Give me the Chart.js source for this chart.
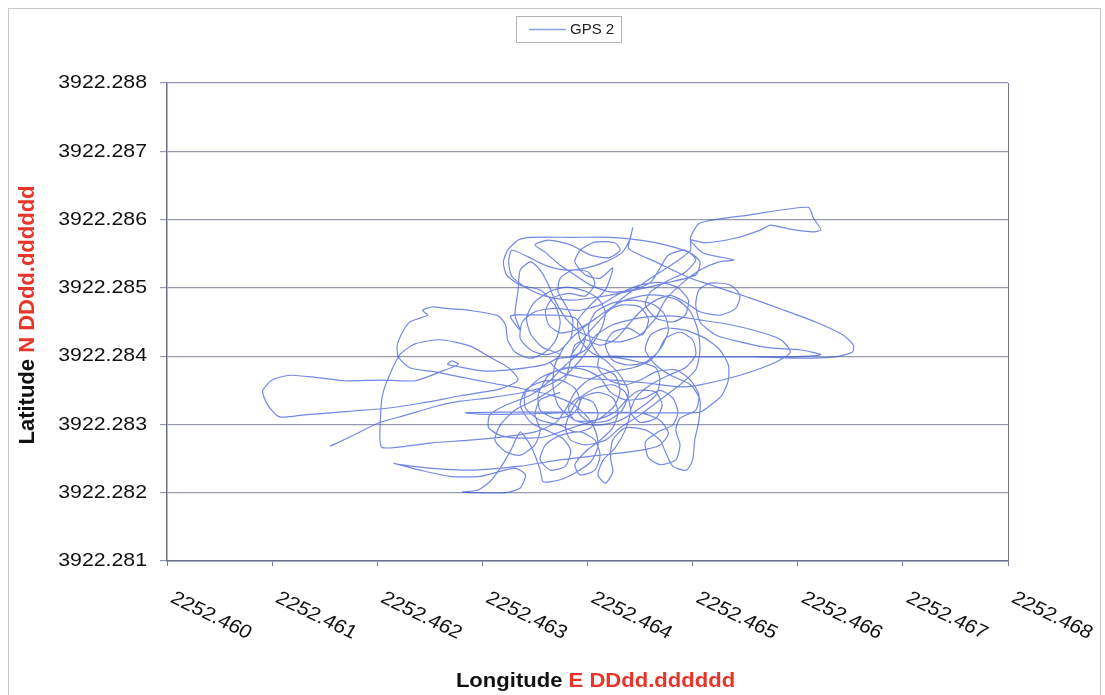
<!DOCTYPE html>
<html>
<head>
<meta charset="utf-8">
<title>GPS 2</title>
<script src="https://cdn.jsdelivr.net/npm/chart.js@4.4.1/dist/chart.umd.min.js"></script>
<style>
  html, body { margin: 0; padding: 0; background: #fff; }
  #wrap { width: 1105px; height: 695px; }
</style>
</head>
<body>
<div id="wrap"><canvas id="gps" width="1105" height="695"></canvas></div>
<script>
// axis ranges and labels
const serieNombre = "GPS 2";
const lonMin = 2252.460, lonMax = 2252.468, lonPaso = 0.001;
const latMin = 3922.281, latMax = 3922.288, latPaso = 0.001;
const tituloX = ["Longitude ", "E DDdd.dddddd"];
const tituloY = ["Latitude ", "N DDdd.dddddd"];

// track (longitude E / latitude N, DDdd.dddddd)
const lon = [
  2252.46155, 2252.46176, 2252.46201, 2252.46228, 2252.46257, 2252.46279, 2252.46307, 2252.46336, 2252.46360, 2252.46379,
  2252.46393, 2252.46405, 2252.46414, 2252.46417, 2252.46410, 2252.46398, 2252.46380, 2252.46363, 2252.46349, 2252.46342,
  2252.46346, 2252.46357, 2252.46374, 2252.46360, 2252.46331, 2252.46303, 2252.46279, 2252.46267, 2252.46271, 2252.46277,
  2252.46260, 2252.46236, 2252.46203, 2252.46169, 2252.46141, 2252.46117, 2252.46100, 2252.46091, 2252.46096, 2252.46107,
  2252.46131, 2252.46155, 2252.46179, 2252.46205, 2252.46241, 2252.46279, 2252.46317, 2252.46334, 2252.46325, 2252.46309,
  2252.46288, 2252.46260, 2252.46236, 2252.46222, 2252.46213, 2252.46205, 2252.46203, 2252.46204, 2252.46227, 2252.46252,
  2252.46288, 2252.46322, 2252.46350, 2252.46370, 2252.46380, 2252.46388, 2252.46401, 2252.46422, 2252.46443, 2252.46460,
  2252.46471, 2252.46477, 2252.46473, 2252.46462, 2252.46444, 2252.46424, 2252.46408, 2252.46401, 2252.46403, 2252.46412,
  2252.46431, 2252.46469, 2252.46507, 2252.46555, 2252.46603, 2252.46636, 2252.46652, 2252.46653, 2252.46643, 2252.46617,
  2252.46584, 2252.46555, 2252.46531, 2252.46512, 2252.46498, 2252.46481, 2252.46465, 2252.46450, 2252.46439, 2252.46441,
  2252.46443, 2252.46440, 2252.46433, 2252.46417, 2252.46398, 2252.46379, 2252.46360, 2252.46344, 2252.46328, 2252.46325,
  2252.46328, 2252.46341, 2252.46360, 2252.46384, 2252.46412, 2252.46446, 2252.46474, 2252.46503, 2252.46507, 2252.46498,
  2252.46474, 2252.46450, 2252.46422, 2252.46384, 2252.46346, 2252.46334, 2252.46324, 2252.46320, 2252.46323, 2252.46336,
  2252.46355, 2252.46369, 2252.46374, 2252.46370, 2252.46360, 2252.46346, 2252.46331, 2252.46324, 2252.46322, 2252.46315,
  2252.46288, 2252.46265, 2252.46252, 2252.46243, 2252.46248, 2252.46231, 2252.46224, 2252.46219, 2252.46220, 2252.46231,
  2252.46255, 2252.46284, 2252.46307, 2252.46336, 2252.46365, 2252.46386, 2252.46401, 2252.46408, 2252.46410, 2252.46403,
  2252.46388, 2252.46374, 2252.46358, 2252.46355, 2252.46350, 2252.46344, 2252.46336, 2252.46327, 2252.46317, 2252.46307,
  2252.46296, 2252.46281, 2252.46298, 2252.46322, 2252.46336, 2252.46341, 2252.46331, 2252.46298, 2252.46269, 2252.46241,
  2252.46216, 2252.46222, 2252.46250, 2252.46288, 2252.46336, 2252.46374, 2252.46412, 2252.46450, 2252.46469, 2252.46477,
  2252.46469, 2252.46450, 2252.46412, 2252.46374, 2252.46336, 2252.46298, 2252.46284, 2252.46317, 2252.46374, 2252.46431,
  2252.46488, 2252.46507, 2252.46517, 2252.46528, 2252.46534, 2252.46534, 2252.46526, 2252.46512, 2252.46493, 2252.46474,
  2252.46460, 2252.46455, 2252.46465, 2252.46479, 2252.46498, 2252.46507, 2252.46506, 2252.46502, 2252.46500, 2252.46494,
  2252.46481, 2252.46474, 2252.46469, 2252.46455, 2252.46436, 2252.46424, 2252.46422, 2252.46424, 2252.46417, 2252.46410,
  2252.46415, 2252.46426, 2252.46436, 2252.46441, 2252.46436, 2252.46424, 2252.46407, 2252.46393, 2252.46384, 2252.46379,
  2252.46384, 2252.46398, 2252.46417, 2252.46431, 2252.46450, 2252.46469, 2252.46488, 2252.46503, 2252.46507, 2252.46505,
  2252.46498, 2252.46486, 2252.46469, 2252.46450, 2252.46431, 2252.46412, 2252.46393, 2252.46379, 2252.46369, 2252.46367,
  2252.46372, 2252.46388, 2252.46410, 2252.46431, 2252.46450, 2252.46465, 2252.46469, 2252.46465, 2252.46450, 2252.46431,
  2252.46412, 2252.46393, 2252.46374, 2252.46365, 2252.46374, 2252.46395, 2252.46424, 2252.46455, 2252.46488, 2252.46507,
  2252.46545, 2252.46579, 2252.46593, 2252.46584, 2252.46565, 2252.46536, 2252.46507, 2252.46479, 2252.46450, 2252.46424,
  2252.46407, 2252.46398, 2252.46384, 2252.46403, 2252.46431, 2252.46460, 2252.46484, 2252.46498, 2252.46498, 2252.46507,
  2252.46555, 2252.46610, 2252.46615, 2252.46622, 2252.46614, 2252.46593, 2252.46574, 2252.46565, 2252.46541, 2252.46512,
  2252.46498, 2252.46510, 2252.46539, 2252.46525, 2252.46507, 2252.46488, 2252.46474, 2252.46465, 2252.46450, 2252.46431,
  2252.46412, 2252.46393, 2252.46379, 2252.46369, 2252.46363, 2252.46355, 2252.46346, 2252.46336, 2252.46334, 2252.46331,
  2252.46336, 2252.46327, 2252.46365, 2252.46388, 2252.46398, 2252.46393, 2252.46379, 2252.46365, 2252.46346, 2252.46322,
  2252.46307, 2252.46306, 2252.46317, 2252.46336, 2252.46360, 2252.46379, 2252.46393, 2252.46412, 2252.46426, 2252.46431,
  2252.46426, 2252.46412, 2252.46393, 2252.46374, 2252.46355, 2252.46341, 2252.46341, 2252.46355, 2252.46374,
  2252.46388, 2252.46403, 2252.46410, 2252.46405, 2252.46391, 2252.46382, 2252.46388, 2252.46407, 2252.46426, 2252.46439,
  2252.46450, 2252.46465, 2252.46471, 2252.46465, 2252.46450, 2252.46441, 2252.46446, 2252.46460, 2252.46477, 2252.46493,
  2252.46503, 2252.46500, 2252.46488, 2252.46474, 2252.46467, 2252.46455, 2252.46439, 2252.46424, 2252.46417, 2252.46424,
  2252.46439, 2252.46452, 2252.46458, 2252.46450, 2252.46433, 2252.46417, 2252.46403, 2252.46388, 2252.46374, 2252.46363,
  2252.46360, 2252.46367, 2252.46382, 2252.46398, 2252.46407, 2252.46401, 2252.46386, 2252.46374, 2252.46372, 2252.46379,
  2252.46386, 2252.46384, 2252.46374, 2252.46360, 2252.46346, 2252.46336, 2252.46338, 2252.46350, 2252.46369, 2252.46391,
  2252.46412, 2252.46431, 2252.46450, 2252.46469, 2252.46486, 2252.46496, 2252.46493, 2252.46481, 2252.46465, 2252.46455,
  2252.46460, 2252.46477, 2252.46493, 2252.46503, 2252.46493, 2252.46477, 2252.46469, 2252.46460, 2252.46443, 2252.46422,
  2252.46403, 2252.46388, 2252.46374, 2252.46360, 2252.46350, 2252.46363, 2252.46384, 2252.46403, 2252.46420, 2252.46431,
  2252.46426, 2252.46407, 2252.46393, 2252.46388, 2252.46398, 2252.46412, 2252.46424, 2252.46417, 2252.46403, 2252.46391,
  2252.46393, 2252.46403, 2252.46417, 2252.46431, 2252.46439, 2252.46433, 2252.46420, 2252.46403, 2252.46391, 2252.46395,
  2252.46410, 2252.46424, 2252.46429, 2252.46424, 2252.46412, 2252.46398, 2252.46388, 2252.46393, 2252.46407, 2252.46412,
  2252.46407, 2252.46393, 2252.46374, 2252.46360, 2252.46355, 2252.46365, 2252.46379, 2252.46384, 2252.46376, 2252.46360,
  2252.46346, 2252.46336, 2252.46341, 2252.46355, 2252.46374, 2252.46388, 2252.46393, 2252.46386, 2252.46369, 2252.46355,
  2252.46353, 2252.46363, 2252.46379, 2252.46398, 2252.46412, 2252.46422, 2252.46436, 2252.46455, 2252.46469, 2252.46481,
  2252.46486, 2252.46481, 2252.46467, 2252.46455, 2252.46458, 2252.46469, 2252.46484, 2252.46488, 2252.46484, 2252.46488,
  2252.46503, 2252.46506, 2252.46498, 2252.46484, 2252.46465, 2252.46450, 2252.46436, 2252.46420, 2252.46410, 2252.46412,
  2252.46450, 2252.46498, 2252.46545, 2252.46593, 2252.46622, 2252.46603, 2252.46574, 2252.46545, 2252.46522, 2252.46507,
  2252.46503, 2252.46506, 2252.46517, 2252.46536, 2252.46545, 2252.46541, 2252.46526, 2252.46507, 2252.46493, 2252.46479,
  2252.46465, 2252.46450, 2252.46439, 2252.46426, 2252.46412, 2252.46398, 2252.46388, 2252.46384, 2252.46379, 2252.46365,
  2252.46350, 2252.46331, 2252.46317, 2252.46312, 2252.46322, 2252.46336, 2252.46350, 2252.46355, 2252.46350, 2252.46355,
  2252.46374
];
const lat = [
  3922.28268, 3922.28283, 3922.28302, 3922.28314, 3922.28327, 3922.28334, 3922.28339, 3922.28346, 3922.28356, 3922.28372,
  3922.28394, 3922.28419, 3922.28443, 3922.28465, 3922.28484, 3922.28495, 3922.28501, 3922.28494, 3922.28478, 3922.28456,
  3922.28432, 3922.28413, 3922.28402, 3922.28388, 3922.28381, 3922.28378, 3922.28384, 3922.28388, 3922.28393, 3922.28388,
  3922.28377, 3922.28364, 3922.28365, 3922.28364, 3922.28369, 3922.28372, 3922.28365, 3922.28349, 3922.28328, 3922.28311,
  3922.28314, 3922.28317, 3922.28320, 3922.28323, 3922.28331, 3922.28342, 3922.28352, 3922.28365, 3922.28383, 3922.28397,
  3922.28415, 3922.28424, 3922.28418, 3922.28403, 3922.28377, 3922.28343, 3922.28306, 3922.28267, 3922.28268, 3922.28273,
  3922.28277, 3922.28282, 3922.28289, 3922.28303, 3922.28324, 3922.28347, 3922.28365, 3922.28377, 3922.28383, 3922.28394,
  3922.28415, 3922.28438, 3922.28462, 3922.28476, 3922.28482, 3922.28478, 3922.28465, 3922.28444, 3922.28421, 3922.28400,
  3922.28399, 3922.28399, 3922.28399, 3922.28399, 3922.28397, 3922.28399, 3922.28406, 3922.28416, 3922.28431, 3922.28450,
  3922.28469, 3922.28485, 3922.28497, 3922.28507, 3922.28514, 3922.28526, 3922.28538, 3922.28548, 3922.28558, 3922.28574,
  3922.28588, 3922.28570, 3922.28552, 3922.28538, 3922.28529, 3922.28526, 3922.28533, 3922.28545, 3922.28555, 3922.28538,
  3922.28517, 3922.28501, 3922.28488, 3922.28482, 3922.28487, 3922.28497, 3922.28507, 3922.28519, 3922.28538, 3922.28551,
  3922.28563, 3922.28570, 3922.28574, 3922.28574, 3922.28574, 3922.28570, 3922.28555, 3922.28538, 3922.28519, 3922.28504,
  3922.28497, 3922.28475, 3922.28450, 3922.28424, 3922.28406, 3922.28397, 3922.28406, 3922.28424, 3922.28446, 3922.28459,
  3922.28467, 3922.28470, 3922.28472, 3922.28467, 3922.28460, 3922.28450, 3922.28435, 3922.28416, 3922.28399, 3922.28383,
  3922.28377, 3922.28368, 3922.28361, 3922.28353, 3922.28343, 3922.28330, 3922.28309, 3922.28289, 3922.28267, 3922.28245,
  3922.28229, 3922.28219, 3922.28216, 3922.28233, 3922.28255, 3922.28274, 3922.28289, 3922.28262, 3922.28236, 3922.28216,
  3922.28204, 3922.28201, 3922.28200, 3922.28200, 3922.28207, 3922.28226, 3922.28236, 3922.28224, 3922.28224, 3922.28233,
  3922.28243, 3922.28241, 3922.28236, 3922.28233, 3922.28239, 3922.28248, 3922.28255, 3922.28262, 3922.28270, 3922.28287,
  3922.28306, 3922.28317, 3922.28317, 3922.28317, 3922.28315, 3922.28315, 3922.28317, 3922.28318, 3922.28318, 3922.28317,
  3922.28317, 3922.28318, 3922.28328, 3922.28343, 3922.28365, 3922.28387, 3922.28409, 3922.28426, 3922.28438, 3922.28441,
  3922.28431, 3922.28409, 3922.28387, 3922.28372, 3922.28358, 3922.28336, 3922.28306, 3922.28277, 3922.28248, 3922.28233,
  3922.28239, 3922.28260, 3922.28277, 3922.28292, 3922.28295, 3922.28277, 3922.28251, 3922.28230, 3922.28214, 3922.28226,
  3922.28248, 3922.28265, 3922.28292, 3922.28321, 3922.28347, 3922.28358, 3922.28353, 3922.28339, 3922.28318, 3922.28295,
  3922.28277, 3922.28270, 3922.28277, 3922.28295, 3922.28314, 3922.28336, 3922.28358, 3922.28380, 3922.28409, 3922.28438,
  3922.28465, 3922.28482, 3922.28489, 3922.28488, 3922.28479, 3922.28460, 3922.28438, 3922.28416, 3922.28387, 3922.28358,
  3922.28328, 3922.28306, 3922.28299, 3922.28306, 3922.28324, 3922.28343, 3922.28365, 3922.28383, 3922.28391, 3922.28397,
  3922.28399, 3922.28399, 3922.28397, 3922.28391, 3922.28377, 3922.28368, 3922.28365, 3922.28361, 3922.28355, 3922.28358,
  3922.28372, 3922.28391, 3922.28406, 3922.28424, 3922.28435, 3922.28446, 3922.28453, 3922.28459, 3922.28456, 3922.28446,
  3922.28429, 3922.28409, 3922.28400, 3922.28438, 3922.28482, 3922.28514, 3922.28538, 3922.28555, 3922.28574, 3922.28595,
  3922.28607, 3922.28618, 3922.28602, 3922.28585, 3922.28582, 3922.28586, 3922.28592, 3922.28585, 3922.28573, 3922.28566,
  3922.28570, 3922.28551, 3922.28541, 3922.28538, 3922.28526, 3922.28504, 3922.28482, 3922.28456, 3922.28431, 3922.28421,
  3922.28424, 3922.28435, 3922.28456, 3922.28482, 3922.28504, 3922.28526, 3922.28538, 3922.28526, 3922.28497, 3922.28460,
  3922.28438, 3922.28459, 3922.28460, 3922.28456, 3922.28431, 3922.28406, 3922.28387, 3922.28365, 3922.28343, 3922.28328,
  3922.28314, 3922.28295, 3922.28284, 3922.28280, 3922.28282, 3922.28292, 3922.28299, 3922.28309, 3922.28328, 3922.28350,
  3922.28372, 3922.28383, 3922.28385, 3922.28380, 3922.28368, 3922.28347, 3922.28324, 3922.28306, 3922.28299,
  3922.28289, 3922.28295, 3922.28314, 3922.28333, 3922.28339, 3922.28324, 3922.28306, 3922.28306, 3922.28318, 3922.28339,
  3922.28350, 3922.28347, 3922.28328, 3922.28309, 3922.28303, 3922.28318, 3922.28339, 3922.28358, 3922.28372, 3922.28383,
  3922.28402, 3922.28424, 3922.28435, 3922.28426, 3922.28406, 3922.28391, 3922.28387, 3922.28394, 3922.28416, 3922.28435,
  3922.28441, 3922.28431, 3922.28453, 3922.28472, 3922.28475, 3922.28465, 3922.28450, 3922.28438, 3922.28434, 3922.28446,
  3922.28467, 3922.28485, 3922.28492, 3922.28488, 3922.28506, 3922.28523, 3922.28526, 3922.28514, 3922.28494, 3922.28475,
  3922.28453, 3922.28426, 3922.28409, 3922.28402, 3922.28409, 3922.28426, 3922.28450, 3922.28465, 3922.28470, 3922.28467,
  3922.28475, 3922.28492, 3922.28504, 3922.28508, 3922.28500, 3922.28482, 3922.28460, 3922.28450, 3922.28456, 3922.28475,
  3922.28494, 3922.28511, 3922.28523, 3922.28541, 3922.28555, 3922.28548, 3922.28529, 3922.28508, 3922.28497, 3922.28494,
  3922.28504, 3922.28519, 3922.28533, 3922.28552, 3922.28563, 3922.28570, 3922.28563, 3922.28548, 3922.28544, 3922.28555,
  3922.28566, 3922.28567, 3922.28555, 3922.28538, 3922.28519, 3922.28514, 3922.28529, 3922.28497, 3922.28475, 3922.28453,
  3922.28424, 3922.28406, 3922.28394, 3922.28372, 3922.28347, 3922.28321, 3922.28306, 3922.28303, 3922.28318, 3922.28339,
  3922.28347, 3922.28339, 3922.28318, 3922.28295, 3922.28277, 3922.28260, 3922.28241, 3922.28226, 3922.28233, 3922.28255,
  3922.28277, 3922.28289, 3922.28284, 3922.28270, 3922.28248, 3922.28233, 3922.28239, 3922.28262, 3922.28280, 3922.28292,
  3922.28303, 3922.28328, 3922.28350, 3922.28362, 3922.28365, 3922.28353, 3922.28333, 3922.28315, 3922.28309, 3922.28321,
  3922.28343, 3922.28372, 3922.28383, 3922.28380, 3922.28368, 3922.28347, 3922.28336, 3922.28339, 3922.28350, 3922.28339,
  3922.28318, 3922.28299, 3922.28289, 3922.28274, 3922.28251, 3922.28241, 3922.28248, 3922.28270, 3922.28292, 3922.28309,
  3922.28321, 3922.28343, 3922.28365, 3922.28380, 3922.28377, 3922.28365, 3922.28358, 3922.28365, 3922.28383, 3922.28399,
  3922.28399, 3922.28399, 3922.28399, 3922.28399, 3922.28402, 3922.28409, 3922.28412, 3922.28421, 3922.28431, 3922.28450,
  3922.28475, 3922.28497, 3922.28507, 3922.28504, 3922.28489, 3922.28470, 3922.28460, 3922.28465, 3922.28479, 3922.28489,
  3922.28482, 3922.28465, 3922.28446, 3922.28424, 3922.28416, 3922.28424, 3922.28416, 3922.28394, 3922.28368, 3922.28350,
  3922.28336, 3922.28321, 3922.28299, 3922.28277, 3922.28260, 3922.28255, 3922.28270, 3922.28292, 3922.28314, 3922.28336,
  3922.28347
];

const puntos = [];
for (let i = 0; i < Math.min(lon.length, lat.length); i++) {
  puntos.push({ x: lon[i], y: lat[i] });
}

const ROJO = "#e8352a";
const FUENTE = '"Liberation Sans", Arial, sans-serif';

function texto(ctx, t, x, y, sx, ang) {
  ctx.save();
  ctx.translate(x, y);
  ctx.scale(sx, 1);
  if (ang) ctx.rotate(ang);
  ctx.fillText(t, 0, 0);
  ctx.restore();
}

// two coloured title, centred on 0 in the current transform
function tituloDoble(ctx, partes, sx) {
  const w1 = ctx.measureText(partes[0]).width;
  const w2 = ctx.measureText(partes[1]).width;
  const x0 = -(w1 + w2) / 2;
  ctx.scale(sx, 1);
  ctx.textAlign = "left";
  ctx.fillStyle = "#111";
  ctx.fillText(partes[0], x0, 0);
  ctx.fillStyle = ROJO;
  ctx.fillText(partes[1], x0 + w1, 0);
}

const decorado = {
  id: "decorado",
  beforeDraw(chart) {
    const ctx = chart.ctx;
    ctx.save();
    ctx.fillStyle = "#fff";
    ctx.fillRect(0, 0, chart.width, chart.height);
    ctx.strokeStyle = "#c8c8c8";
    ctx.lineWidth = 1;
    ctx.strokeRect(8.5, 8.5, 1092, 700);
    ctx.restore();
  },
  afterDraw(chart) {
    const { ctx, chartArea: a } = chart;
    const xs = chart.scales.x, ys = chart.scales.y;
    ctx.save();

    // right edge of the plot box
    ctx.strokeStyle = "rgb(115,120,145)";
    ctx.lineWidth = 1;
    ctx.beginPath();
    ctx.moveTo(a.right + 0.5, a.top);
    ctx.lineTo(a.right + 0.5, a.bottom);
    ctx.stroke();

    // tick labels
    ctx.fillStyle = "#111";
    ctx.font = "19px " + FUENTE;
    ctx.textAlign = "right";
    ctx.textBaseline = "middle";
    ys.ticks.forEach(t => texto(ctx, t.value.toFixed(3), 147, ys.getPixelForValue(t.value), 1.12, 0));
    ctx.textAlign = "left";
    xs.ticks.forEach(t => texto(ctx, t.value.toFixed(3), xs.getPixelForValue(t.value) + 5, 597, 1.12, 28.5 * Math.PI / 180));

    // axis titles
    ctx.font = "bold 21px " + FUENTE;
    ctx.textBaseline = "alphabetic";
    ctx.save();
    ctx.translate((a.left + a.right) / 2 + 8, 687);
    tituloDoble(ctx, tituloX, 1.05);
    ctx.restore();

    ctx.font = "bold 22px " + FUENTE;
    ctx.save();
    ctx.translate(34, (a.top + a.bottom) / 2 - 7);
    ctx.rotate(-Math.PI / 2);
    tituloDoble(ctx, tituloY, 1.0);
    ctx.restore();

    // legend
    ctx.strokeStyle = "#b4b4b4";
    ctx.strokeRect(516.5, 16.5, 105, 26);
    ctx.strokeStyle = "rgba(120,145,225,0.85)";
    ctx.lineWidth = 1.5;
    ctx.beginPath();
    ctx.moveTo(529, 29.5);
    ctx.lineTo(566, 29.5);
    ctx.stroke();
    ctx.fillStyle = "#222";
    ctx.font = "15px " + FUENTE;
    ctx.textAlign = "left";
    ctx.textBaseline = "middle";
    ctx.fillText(serieNombre, 570, 30);

    ctx.restore();
  }
};

new Chart(document.getElementById("gps"), {
  type: "scatter",
  data: {
    datasets: [{
      label: serieNombre,
      data: puntos,
      showLine: true,
      pointRadius: 0,
      borderColor: "rgba(55,85,215,0.7)",
      borderWidth: 1.2,
      tension: 0.22
    }]
  },
  options: {
    responsive: false,
    animation: false,
    devicePixelRatio: 1,
    layout: { padding: { left: 160, top: 83, right: 97, bottom: 129 } },
    plugins: {
      legend: { display: false },
      tooltip: { enabled: false }
    },
    scales: {
      x: {
        type: "linear",
        min: lonMin,
        max: lonMax,
        ticks: { stepSize: lonPaso, display: false },
        grid: { drawOnChartArea: false, drawTicks: true, tickLength: 5, color: "rgb(120,125,150)" },
        border: { color: "rgb(105,110,140)", width: 1.5 }
      },
      y: {
        type: "linear",
        min: latMin,
        max: latMax,
        ticks: { stepSize: latPaso, display: false },
        grid: { color: "rgb(150,155,175)", lineWidth: 1.2, tickLength: 7 },
        border: { color: "rgb(105,110,140)", width: 1.5 }
      }
    }
  },
  plugins: [decorado]
});
</script>
</body>
</html>
